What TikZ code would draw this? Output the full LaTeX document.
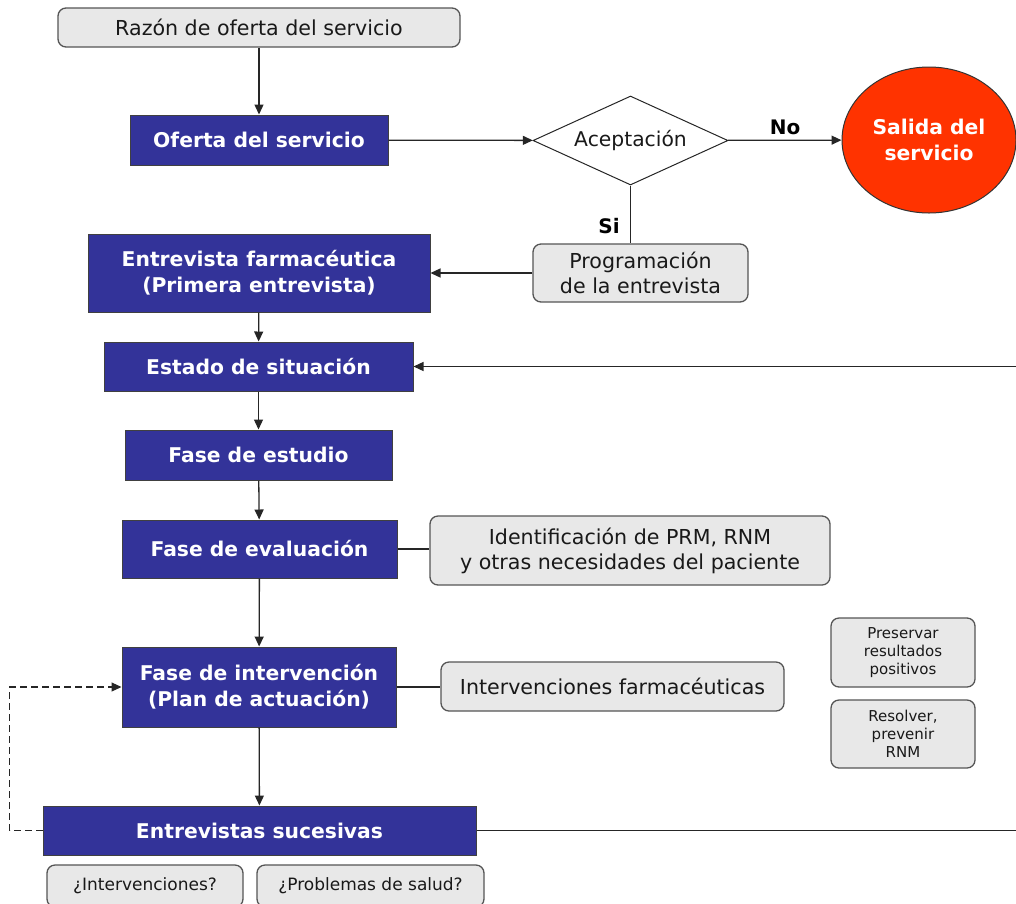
\documentclass[tikz,border=0pt]{standalone}
\usepackage{fontspec}
\setmainfont{DejaVu Sans}
\usepackage{xcolor}
\usepackage{tikz}
\usetikzlibrary{arrows.meta,shapes.geometric}
\definecolor{faseblue}{HTML}{333399}
\definecolor{exitred}{HTML}{FF3300}
\definecolor{notegray}{HTML}{E8E8E8}
\definecolor{edgegray}{HTML}{555555}

\begin{document}
\begin{tikzpicture}[x=1pt,y=-1pt,
  fasenode/.style={rectangle,draw=black!75,fill=faseblue,line width=1pt,text=white,
    font=\bfseries\fontsize{20.3}{26}\selectfont,align=center,inner sep=0pt},
  notenode/.style={rectangle,rounded corners=8pt,draw=edgegray,fill=notegray,line width=1.3pt,
    text=black!90,font=\fontsize{20.6}{25}\selectfont,align=center,inner sep=0pt},
  smallnote/.style={notenode,font=\fontsize{15}{18}\selectfont},
  asknote/.style={notenode,font=\fontsize{17}{20}\selectfont},
  decnode/.style={diamond,draw=black!85,fill=white,line width=1pt,inner sep=0pt,aspect=2.2,
    font=\fontsize{20.3}{25}\selectfont,text=black!90},
  exitnode/.style={ellipse,draw=black!80,fill=exitred,line width=1pt,text=white,
    font=\bfseries\fontsize{20.3}{26}\selectfont,align=center,inner sep=0pt},
  lbl/.style={font=\bfseries\fontsize{20}{24}\selectfont,inner sep=0pt},
  arr/.style={-{Triangle[length=10pt,width=9pt]},line width=1.3pt,draw=black!85},
  link/.style={line width=1.3pt,draw=black!85}]
  \useasboundingbox (0,0) rectangle (1016,903);

  \node[notenode,minimum width=402pt,minimum height=39pt] (razon) at (259,27.5) {Razón de oferta del servicio};
  \node[fasenode,minimum width=258pt,minimum height=50pt] (oferta) at (259,140) {Oferta del servicio};
  \node[decnode,minimum width=195pt,minimum height=89pt] (acept) at (630.5,140.5) {Aceptación};
  \node[exitnode,minimum width=174pt,minimum height=146pt] (salida) at (929,140) {Salida del\\servicio};
  \node[lbl] (no) at (785,127) {No};
  \node[lbl] (si) at (609,226) {Si};
  \node[notenode,minimum width=215pt,minimum height=58pt] (prog) at (640.5,273) {Programación\\de la entrevista};
  \node[fasenode,minimum width=342pt,minimum height=78pt] (entrev) at (259,273) {Entrevista farmacéutica\\(Primera entrevista)};
  \node[fasenode,minimum width=309pt,minimum height=49pt] (estado) at (258.5,366.5) {Estado de situación};
  \node[fasenode,minimum width=267pt,minimum height=50pt] (estudio) at (258.5,455) {Fase de estudio};
  \node[fasenode,minimum width=275pt,minimum height=58pt] (evalua) at (259.5,549) {Fase de evaluación};
  \node[notenode,minimum width=400pt,minimum height=69pt] (ident) at (630,550.5) {Identificación de PRM, RNM\\y otras necesidades del paciente};
  \node[fasenode,minimum width=274pt,minimum height=80pt] (interv) at (259,687) {Fase de intervención\\(Plan de actuación)};
  \node[notenode,minimum width=343pt,minimum height=49pt] (farma) at (612.5,686.5) {Intervenciones farmacéuticas};
  \node[smallnote,minimum width=144pt,minimum height=69pt] (preserv) at (903,652.5) {Preservar\\resultados\\positivos};
  \node[smallnote,minimum width=144pt,minimum height=68pt] (resolv) at (903,734) {Resolver,\\prevenir\\RNM};
  \node[fasenode,minimum width=433pt,minimum height=49pt] (sucesiv) at (259.5,830.5) {Entrevistas sucesivas};
  \node[asknote,minimum width=196pt,minimum height=42pt] (askint) at (145,886) {¿Intervenciones?};
  \node[asknote,minimum width=227pt,minimum height=42pt] (askprob) at (370.5,886) {¿Problemas de salud?};
  \coordinate (rgt) at (1040,600);

  \draw[arr] (razon) -- (oferta);
  \draw[arr] (oferta) -- (acept);
  \draw[arr] (acept) -- (salida);
  \draw[link] (acept.south) -- (acept.south |- prog.north);
  \draw[arr] (prog) -- (entrev);
  \draw[arr] (entrev) -- (estado);
  \draw[arr] (estado) -- (estudio);
  \draw[arr] (estudio) -- (evalua);
  \draw[link] (evalua.east) -- (evalua.east -| ident.west);
  \draw[arr] (evalua) -- (interv);
  \draw[link] (interv.east) -- (interv.east -| farma.west);
  \draw[arr] (interv) -- (sucesiv);
  \draw[arr,dash pattern=on 7pt off 4pt,line width=1.1pt] (sucesiv.west) -- ++(-33,0) |- (interv.west);
  \draw[arr] (sucesiv.east) -- (sucesiv.east -| rgt) |- (estado.east);
\end{tikzpicture}
\end{document}
